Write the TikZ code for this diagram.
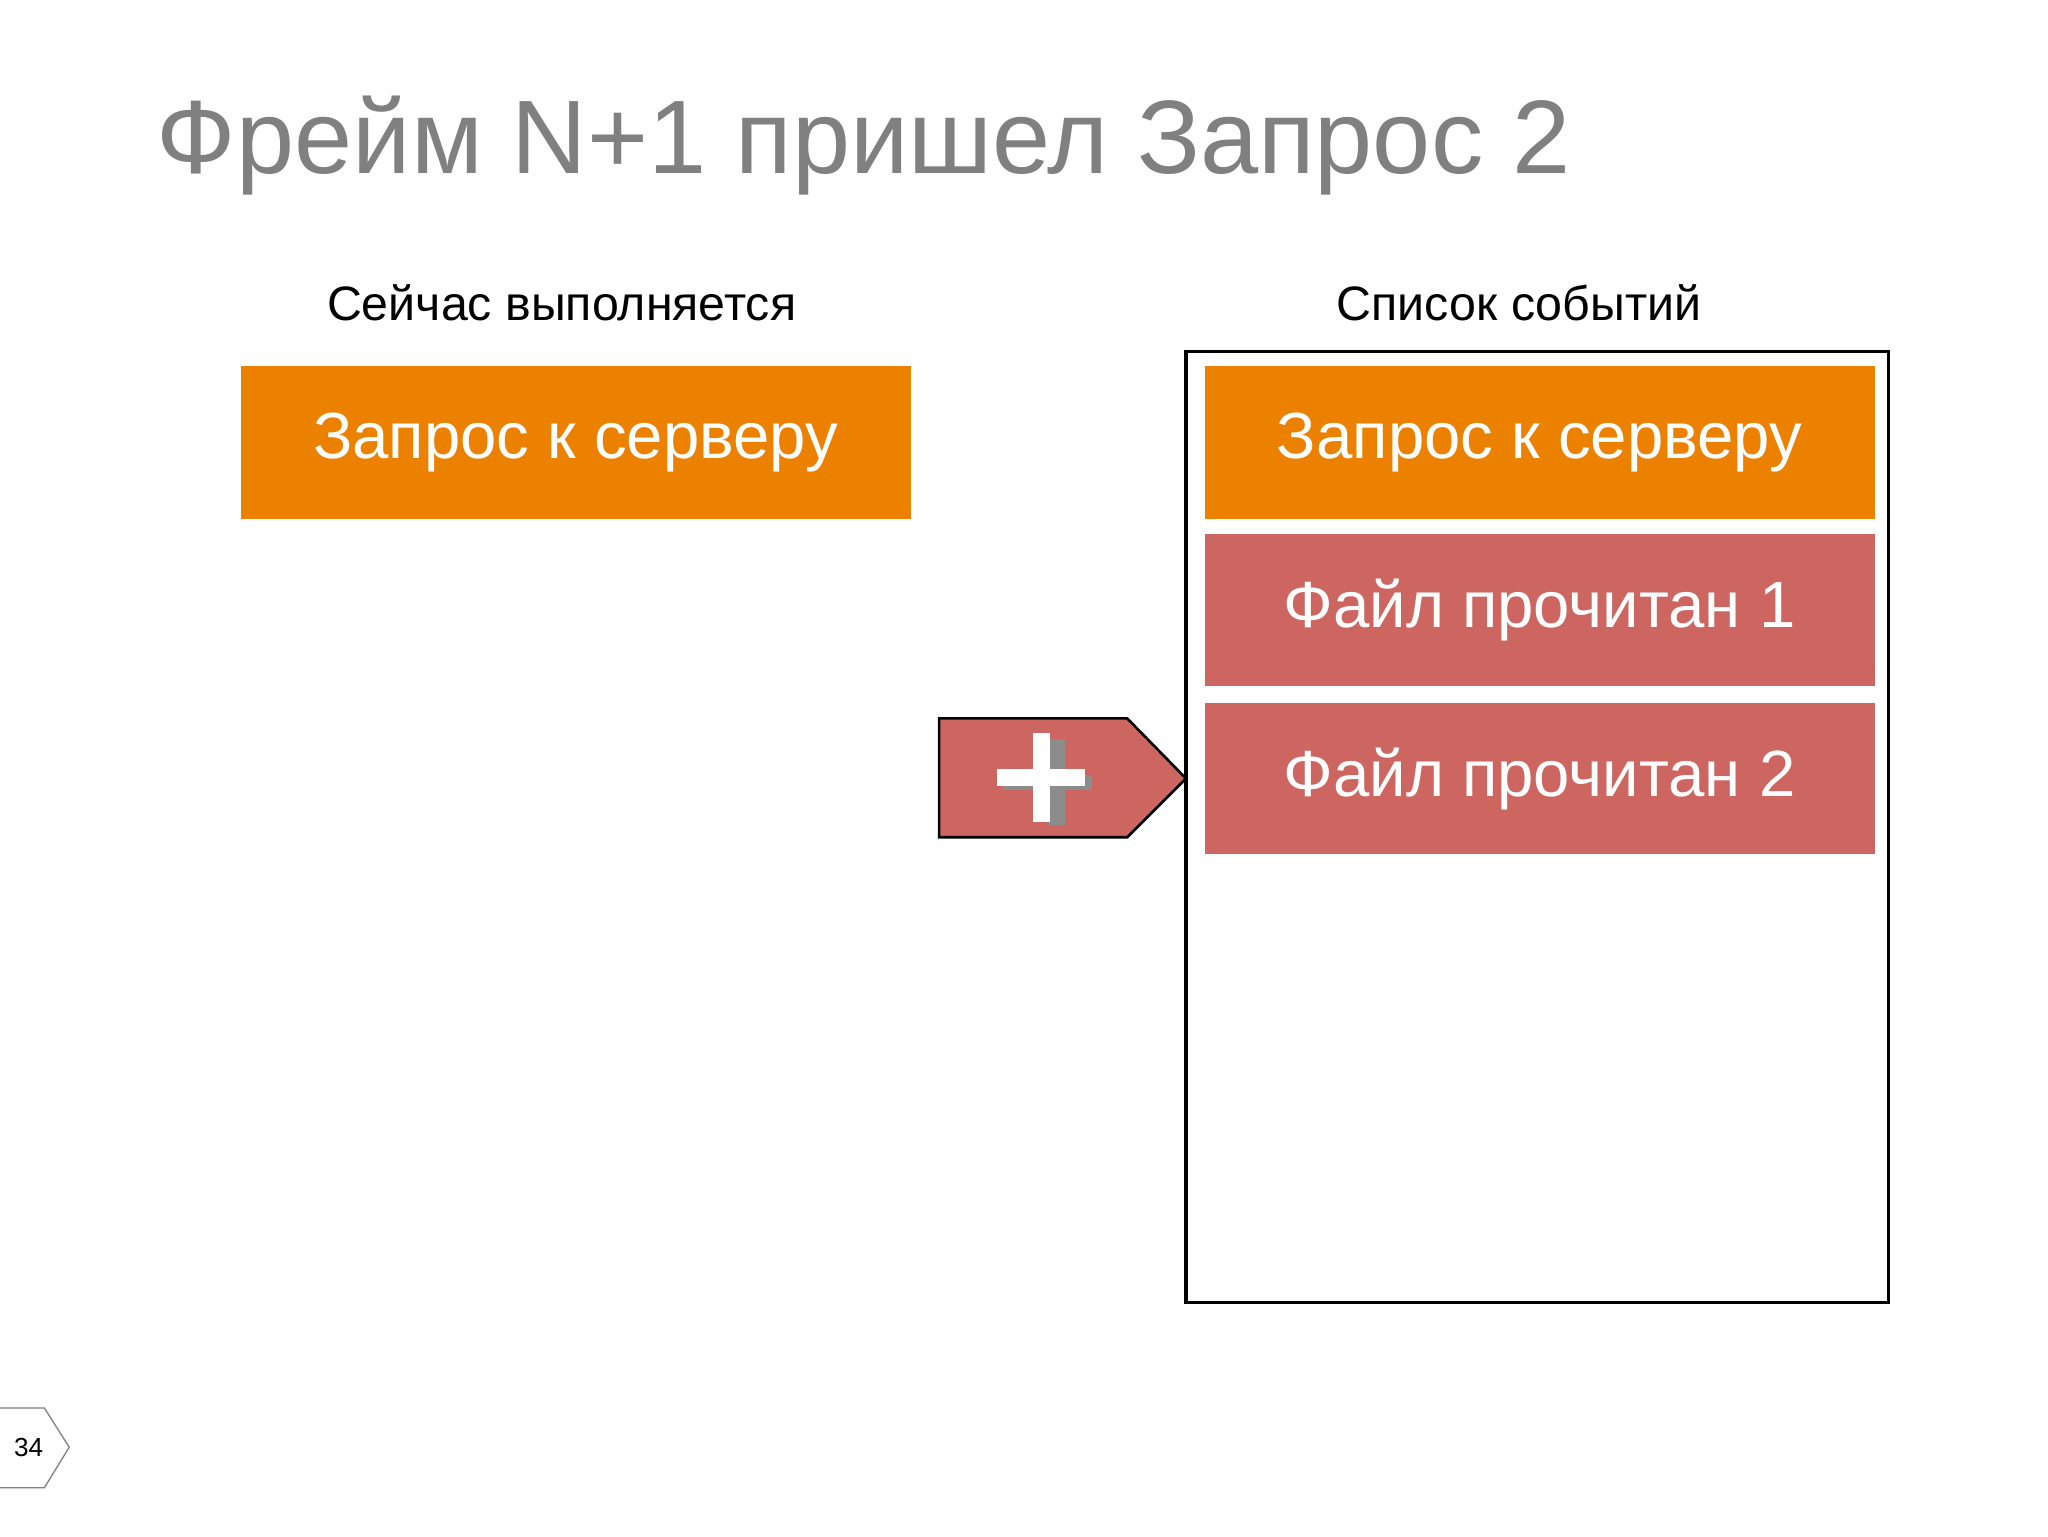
\documentclass[tikz,border=0pt]{standalone}
\usepackage{fontspec}
\setmainfont{Liberation Sans}
\definecolor{org}{RGB}{236,129,0}
\definecolor{redb}{RGB}{205,102,96}
\definecolor{ttl}{RGB}{128,128,128}
\begin{document}
\begin{tikzpicture}[x=1pt,y=-1pt,
 evbox/.style={fill=#1,draw=none,minimum width=513pt,minimum height=117pt,inner sep=0pt,text=white,font=\fontsize{50}{56}\selectfont},
 lbl/.style={font=\fontsize{37}{42}\selectfont}]
\useasboundingbox (0,0) rectangle (1568,1176);
\node[anchor=base west,text=ttl,font=\fontsize{80}{90}\selectfont,inner sep=0] (title) at (120,133) {Фрейм N+1 пришел Запрос 2};
\node[lbl] (l1) at (430,232) {Сейчас выполняется};
\node[lbl] (l2) at (1163,232) {Список событий};
\node[evbox=org,anchor=north west] (cur) at (184,280) {Запрос к серверу};
\draw[line width=2.5pt] (908,269) rectangle (1446,997);
\node[evbox=org,anchor=north west] (e1) at (922,280) {Запрос к серверу};
\node[evbox=redb,anchor=north west,minimum height=116pt] (e2) at (922,409) {Файл прочитан 1};
\node[evbox=redb,anchor=north west,minimum height=116pt] (e3) at (922,538) {Файл прочитан 2};
\draw[fill=redb,line width=2pt] (719,550) -- (863,550) -- (908,596) -- (863,641) -- (719,641) -- cycle;
\fill[black!45] (802,566) rectangle (815,632);
\fill[black!45] (768,593) rectangle (836,605);
\fill[white] (791,561) rectangle (804,629);
\fill[white] (763,589) rectangle (831,602);
\draw[ttl,line width=1pt] (0,1078) -- (34,1078) -- (53,1108) -- (34,1139) -- (0,1139);
\node[font=\fontsize{20}{24}\selectfont] (pg) at (22,1108) {34};
\end{tikzpicture}
\end{document}
